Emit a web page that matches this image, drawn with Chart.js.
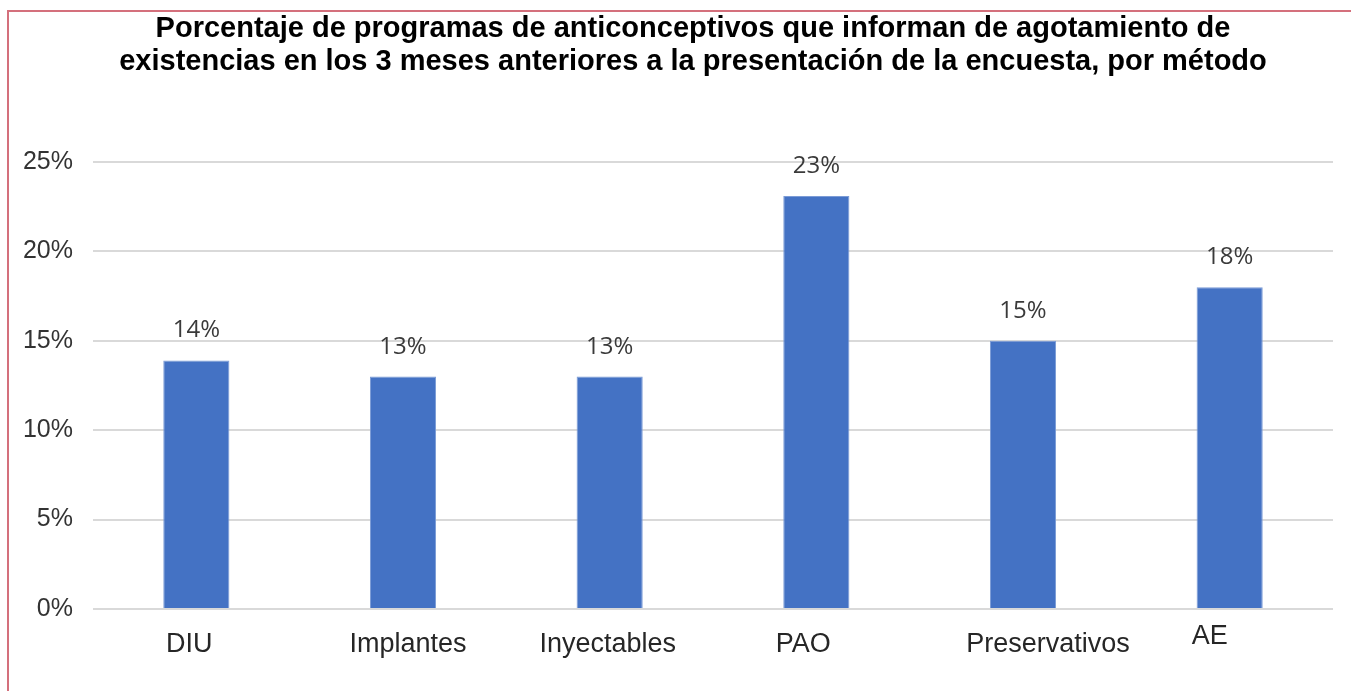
<!DOCTYPE html>
<html>
<head>
<meta charset="utf-8">
<script src="https://cdn.jsdelivr.net/npm/chart.js@4.4.1/dist/chart.umd.min.js"></script>
<style>
  html, body { margin: 0; padding: 0; background: #ffffff; }
  #wrap { position: relative; width: 1351px; height: 691px; overflow: hidden; }
  #frame { position: absolute; left: 7px; top: 10px; width: 1400px; height: 700px; border: 2px solid #d4707c; box-sizing: border-box; }
  canvas { position: absolute; left: 0; top: 0; }
</style>
</head>
<body>
<div id="wrap">
  <div id="frame"></div>
  <canvas id="c" width="1351" height="691"></canvas>
</div>
<script>
const TITLE_LINES = [
  "Porcentaje de programas de anticonceptivos que informan de agotamiento de",
  "existencias en los 3 meses anteriores a la presentación de la encuesta, por método"
];
const CATEGORIES = ["DIU", "Implantes", "Inyectables", "PAO", "Preservativos", "AE"];
const VALUES = [13.9, 13.0, 13.0, 23.1, 15.0, 18.0];
const Y_TICKS = [0, 5, 10, 15, 20, 25];

const titlePlugin = {
  id: 'customTitle',
  afterDraw(chart) {
    const ctx = chart.ctx;
    ctx.save();
    ctx.font = 'bold 29px "Liberation Sans", Arial, sans-serif';
    ctx.fillStyle = '#000000';
    ctx.textAlign = 'center';
    ctx.textBaseline = 'alphabetic';
    const cx = 693;
    const baselines = [37, 70];
    TITLE_LINES.forEach((t, i) => ctx.fillText(t, cx, baselines[i]));
    ctx.restore();
  }
};

const dataLabelPlugin = {
  id: 'dataLabels',
  afterDatasetsDraw(chart) {
    const ctx = chart.ctx;
    const meta = chart.getDatasetMeta(0);
    ctx.save();
    ctx.font = '24px "Open Sans", "Liberation Sans", sans-serif';
    ctx.fillStyle = '#3a3a3a';
    ctx.textAlign = 'center';
    ctx.textBaseline = 'alphabetic';
    meta.data.forEach((bar, i) => {
      ctx.fillText(Math.round(VALUES[i]) + '%', bar.x, bar.y - 23);
    });
    ctx.restore();
  }
};

const xLabelPlugin = {
  id: 'xLabels',
  afterDraw(chart) {
    const ctx = chart.ctx;
    const xs = chart.scales.x;
    const dx = [-7, 5, -2, -13, 25, -20];
    const dy = [0, 0, 0, 0, 0, -8];
    ctx.save();
    ctx.font = '27px "Liberation Sans", Arial, sans-serif';
    ctx.fillStyle = '#262626';
    ctx.textAlign = 'center';
    ctx.textBaseline = 'middle';
    CATEGORIES.forEach((c, i) => {
      ctx.fillText(c, xs.getPixelForValue(i) + dx[i], 645 + dy[i]);
    });
    ctx.restore();
  }
};

new Chart(document.getElementById('c'), {
  type: 'bar',
  data: {
    labels: CATEGORIES,
    datasets: [{
      data: VALUES,
      backgroundColor: '#4472C4',
      borderColor: '#7b9bd6',
      borderWidth: 1,
      barPercentage: 0.32,
      categoryPercentage: 1.0
    }]
  },
  options: {
    responsive: false,
    animation: false,
    devicePixelRatio: 1,
    layout: { padding: { top: 162, bottom: 82, left: 0, right: 18 } },
    plugins: {
      legend: { display: false },
      title: { display: false },
      tooltip: { enabled: false }
    },
    scales: {
      x: {
        grid: { display: false, drawTicks: false },
        border: { display: false },
        ticks: { display: false },
        afterFit(axis) { axis.height = 0; }
      },
      y: {
        min: 0,
        max: 25,
        afterBuildTicks(axis) { axis.ticks = Y_TICKS.map(v => ({ value: v })); },
        ticks: {
          padding: 20,
          color: '#333333',
          font: { family: '"Liberation Sans", Arial, sans-serif', size: 25 },
          callback: v => v + '%'
        },
        grid: { color: '#d9d9d9', lineWidth: 2, drawTicks: false },
        border: { display: false },
        afterFit(axis) { axis.width = 93; }
      }
    }
  },
  plugins: [titlePlugin, dataLabelPlugin, xLabelPlugin]
});
</script>
</body>
</html>
